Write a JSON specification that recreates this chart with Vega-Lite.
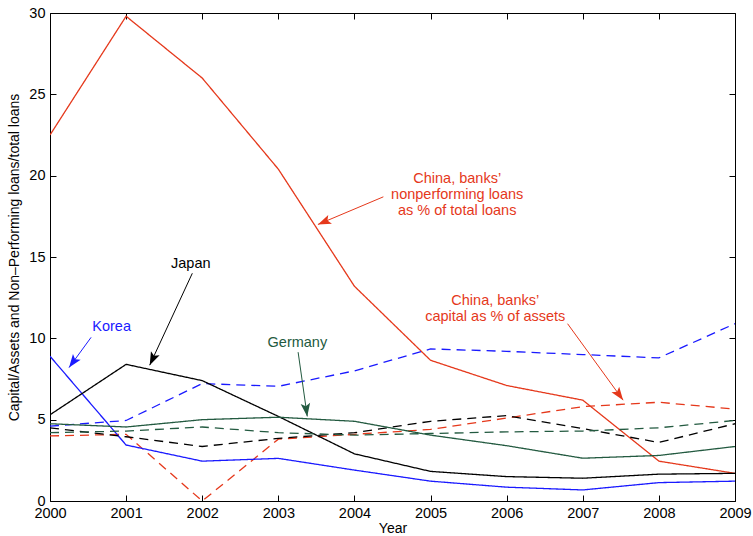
{
  "$schema": "https://vega.github.io/schema/vega-lite/v6.json",
  "width": 685,
  "height": 488,
  "autosize": "none",
  "padding": {"left": 50, "top": 13, "right": 18, "bottom": 35},
  "config": {
    "font": "Liberation Sans",
    "view": {"stroke": null},
    "axis": {
      "domainColor": "#000000",
      "domainWidth": 1,
      "tickColor": "#000000",
      "tickSize": -6,
      "tickWidth": 1,
      "grid": false,
      "labelColor": "#000000",
      "labelFontSize": 14.5,
      "titleColor": "#000000",
      "titleFontSize": 14,
      "titleFontWeight": "normal"
    }
  },
  "datasets": {
    "series": [
      {"year": 2000, "country": "China", "measure": "NPL", "value": 22.5},
      {"year": 2001, "country": "China", "measure": "NPL", "value": 29.8},
      {"year": 2002, "country": "China", "measure": "NPL", "value": 26.0},
      {"year": 2003, "country": "China", "measure": "NPL", "value": 20.4},
      {"year": 2004, "country": "China", "measure": "NPL", "value": 13.2},
      {"year": 2005, "country": "China", "measure": "NPL", "value": 8.65},
      {"year": 2006, "country": "China", "measure": "NPL", "value": 7.1},
      {"year": 2007, "country": "China", "measure": "NPL", "value": 6.2},
      {"year": 2008, "country": "China", "measure": "NPL", "value": 2.45},
      {"year": 2009, "country": "China", "measure": "NPL", "value": 1.7},
      {"year": 2000, "country": "China", "measure": "Capital", "value": 4.0},
      {"year": 2001, "country": "China", "measure": "Capital", "value": 4.1},
      {"year": 2002, "country": "China", "measure": "Capital", "value": 0.0},
      {"year": 2003, "country": "China", "measure": "Capital", "value": 3.8},
      {"year": 2004, "country": "China", "measure": "Capital", "value": 4.1},
      {"year": 2005, "country": "China", "measure": "Capital", "value": 4.4},
      {"year": 2006, "country": "China", "measure": "Capital", "value": 5.1},
      {"year": 2007, "country": "China", "measure": "Capital", "value": 5.8},
      {"year": 2008, "country": "China", "measure": "Capital", "value": 6.07},
      {"year": 2009, "country": "China", "measure": "Capital", "value": 5.65},
      {"year": 2000, "country": "Korea", "measure": "NPL", "value": 8.9},
      {"year": 2001, "country": "Korea", "measure": "NPL", "value": 3.44},
      {"year": 2002, "country": "Korea", "measure": "NPL", "value": 2.45},
      {"year": 2003, "country": "Korea", "measure": "NPL", "value": 2.62},
      {"year": 2004, "country": "Korea", "measure": "NPL", "value": 1.9},
      {"year": 2005, "country": "Korea", "measure": "NPL", "value": 1.22},
      {"year": 2006, "country": "Korea", "measure": "NPL", "value": 0.85},
      {"year": 2007, "country": "Korea", "measure": "NPL", "value": 0.68},
      {"year": 2008, "country": "Korea", "measure": "NPL", "value": 1.13},
      {"year": 2009, "country": "Korea", "measure": "NPL", "value": 1.22},
      {"year": 2000, "country": "Korea", "measure": "Capital", "value": 4.6},
      {"year": 2001, "country": "Korea", "measure": "Capital", "value": 4.95},
      {"year": 2002, "country": "Korea", "measure": "Capital", "value": 7.22},
      {"year": 2003, "country": "Korea", "measure": "Capital", "value": 7.05},
      {"year": 2004, "country": "Korea", "measure": "Capital", "value": 8.0},
      {"year": 2005, "country": "Korea", "measure": "Capital", "value": 9.35},
      {"year": 2006, "country": "Korea", "measure": "Capital", "value": 9.2},
      {"year": 2007, "country": "Korea", "measure": "Capital", "value": 9.0},
      {"year": 2008, "country": "Korea", "measure": "Capital", "value": 8.8},
      {"year": 2009, "country": "Korea", "measure": "Capital", "value": 10.9},
      {"year": 2000, "country": "Japan", "measure": "NPL", "value": 5.3},
      {"year": 2001, "country": "Japan", "measure": "NPL", "value": 8.4},
      {"year": 2002, "country": "Japan", "measure": "NPL", "value": 7.4},
      {"year": 2003, "country": "Japan", "measure": "NPL", "value": 5.2},
      {"year": 2004, "country": "Japan", "measure": "NPL", "value": 2.9},
      {"year": 2005, "country": "Japan", "measure": "NPL", "value": 1.82},
      {"year": 2006, "country": "Japan", "measure": "NPL", "value": 1.5},
      {"year": 2007, "country": "Japan", "measure": "NPL", "value": 1.4},
      {"year": 2008, "country": "Japan", "measure": "NPL", "value": 1.65},
      {"year": 2009, "country": "Japan", "measure": "NPL", "value": 1.7},
      {"year": 2000, "country": "Japan", "measure": "Capital", "value": 4.5},
      {"year": 2001, "country": "Japan", "measure": "Capital", "value": 3.95},
      {"year": 2002, "country": "Japan", "measure": "Capital", "value": 3.35},
      {"year": 2003, "country": "Japan", "measure": "Capital", "value": 3.85},
      {"year": 2004, "country": "Japan", "measure": "Capital", "value": 4.2},
      {"year": 2005, "country": "Japan", "measure": "Capital", "value": 4.9},
      {"year": 2006, "country": "Japan", "measure": "Capital", "value": 5.25},
      {"year": 2007, "country": "Japan", "measure": "Capital", "value": 4.45},
      {"year": 2008, "country": "Japan", "measure": "Capital", "value": 3.6},
      {"year": 2009, "country": "Japan", "measure": "Capital", "value": 4.75},
      {"year": 2000, "country": "Germany", "measure": "NPL", "value": 4.75},
      {"year": 2001, "country": "Germany", "measure": "NPL", "value": 4.55},
      {"year": 2002, "country": "Germany", "measure": "NPL", "value": 5.0},
      {"year": 2003, "country": "Germany", "measure": "NPL", "value": 5.15},
      {"year": 2004, "country": "Germany", "measure": "NPL", "value": 4.9},
      {"year": 2005, "country": "Germany", "measure": "NPL", "value": 4.05},
      {"year": 2006, "country": "Germany", "measure": "NPL", "value": 3.4},
      {"year": 2007, "country": "Germany", "measure": "NPL", "value": 2.63},
      {"year": 2008, "country": "Germany", "measure": "NPL", "value": 2.8},
      {"year": 2009, "country": "Germany", "measure": "NPL", "value": 3.35},
      {"year": 2000, "country": "Germany", "measure": "Capital", "value": 4.2},
      {"year": 2001, "country": "Germany", "measure": "Capital", "value": 4.3},
      {"year": 2002, "country": "Germany", "measure": "Capital", "value": 4.55},
      {"year": 2003, "country": "Germany", "measure": "Capital", "value": 4.2},
      {"year": 2004, "country": "Germany", "measure": "Capital", "value": 4.05},
      {"year": 2005, "country": "Germany", "measure": "Capital", "value": 4.15},
      {"year": 2006, "country": "Germany", "measure": "Capital", "value": 4.25},
      {"year": 2007, "country": "Germany", "measure": "Capital", "value": 4.3},
      {"year": 2008, "country": "Germany", "measure": "Capital", "value": 4.5},
      {"year": 2009, "country": "Germany", "measure": "Capital", "value": 4.95}
    ],
    "notes": [
      {"country": "China", "x": 2005.35, "y": 20.25, "label": "China, banks’\nnonperforming loans\nas % of total loans"},
      {"country": "China", "x": 2005.85, "y": 12.75, "label": "China, banks’\ncapital as % of assets"},
      {"country": "Japan", "x": 2001.85, "y": 15.0, "label": "Japan"},
      {"country": "Korea", "x": 2000.81, "y": 11.1, "label": "Korea"},
      {"country": "Germany", "x": 2003.25, "y": 10.15, "label": "Germany"}
    ],
    "arrows": [
      {"country": "China", "tx": 2004.38, "ty": 18.7, "hx": 2003.52, "hy": 17.0},
      {"country": "China", "tx": 2006.8, "ty": 10.9, "hx": 2007.53, "hy": 6.2},
      {"country": "Japan", "tx": 2001.87, "ty": 14.0, "hx": 2001.31, "hy": 8.35},
      {"country": "Korea", "tx": 2000.54, "ty": 10.06, "hx": 2000.25, "hy": 8.2},
      {"country": "Germany", "tx": 2003.26, "ty": 9.15, "hx": 2003.38, "hy": 5.2}
    ]
  },
  "layer": [
    {
      "data": {"name": "series"},
      "mark": {"type": "line", "strokeWidth": 1.3, "clip": true},
      "encoding": {
        "x": {
          "field": "year", "type": "quantitative",
          "scale": {"domain": [2000, 2009], "nice": false, "zero": false},
          "axis": {"orient": "bottom", "values": [2000, 2001, 2002, 2003, 2004, 2005, 2006, 2007, 2008, 2009], "format": "d", "labelPadding": 11, "labelFlush": false, "title": "Year", "titlePadding": 2}
        },
        "y": {
          "field": "value", "type": "quantitative",
          "scale": {"domain": [0, 30], "nice": false},
          "axis": {"orient": "left", "values": [0, 5, 10, 15, 20, 25, 30], "labelPadding": 11, "title": "Capital/Assets and Non–Performing loans/total loans", "titlePadding": 7}
        },
        "color": {
          "field": "country", "type": "nominal",
          "scale": {"domain": ["China", "Korea", "Japan", "Germany"], "range": ["#e5381b", "#1a1aff", "#000000", "#235a40"]},
          "legend": null
        },
        "strokeDash": {
          "field": "measure", "type": "nominal",
          "scale": {"domain": ["NPL", "Capital"], "range": [[1, 0], [9, 6]]},
          "legend": null
        },
        "detail": {"field": "measure"}
      }
    },
    {
      "data": {"name": "arrows"},
      "mark": {"type": "rule", "strokeWidth": 1},
      "encoding": {
        "x": {"field": "tx", "type": "quantitative", "axis": null},
        "y": {"field": "ty", "type": "quantitative", "axis": null},
        "x2": {"field": "hx"},
        "y2": {"field": "hy"},
        "color": {"field": "country", "type": "nominal", "legend": null}
      }
    },
    {
      "data": {"name": "arrows"},
      "transform": [
        {"calculate": "atan2((datum.hx - datum.tx) * 76.1, (datum.hy - datum.ty) * 16.27) * 180 / PI", "as": "heading"}
      ],
      "mark": {"type": "point", "filled": true, "opacity": 1, "shape": "M0,0L0.36,1L0,0.78L-0.36,1Z", "size": 700},
      "encoding": {
        "x": {"field": "hx", "type": "quantitative", "axis": null},
        "y": {"field": "hy", "type": "quantitative", "axis": null},
        "angle": {"field": "heading", "type": "quantitative", "scale": null},
        "color": {"field": "country", "type": "nominal", "legend": null}
      }
    },
    {
      "data": {"name": "notes"},
      "mark": {"type": "text", "align": "center", "baseline": "top", "fontSize": 14.5, "lineHeight": 16, "lineBreak": "\n"},
      "encoding": {
        "x": {"field": "x", "type": "quantitative", "axis": {"orient": "top", "values": [2000, 2001, 2002, 2003, 2004, 2005, 2006, 2007, 2008, 2009], "labels": false, "title": null}},
        "y": {"field": "y", "type": "quantitative", "axis": {"orient": "right", "values": [0, 5, 10, 15, 20, 25, 30], "labels": false, "title": null}},
        "text": {"field": "label"},
        "color": {"field": "country", "type": "nominal", "legend": null}
      }
    }
  ],
  "resolve": {"axis": {"x": "independent", "y": "independent"}}
}
